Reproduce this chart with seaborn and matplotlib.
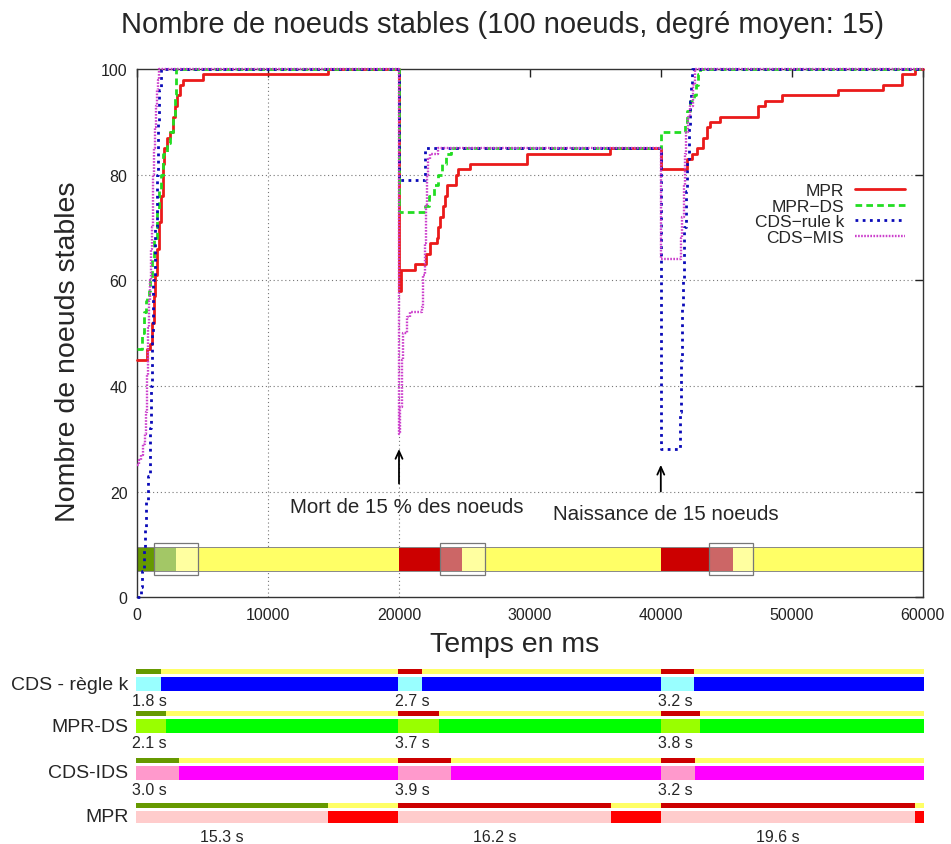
import matplotlib
matplotlib.use("Agg")
import matplotlib.pyplot as plt
from matplotlib.patches import Rectangle
from matplotlib.lines import Line2D
import pandas as pd
import seaborn as sns

# ---------------- data ----------------
MPR_t = [0, 720, 980, 1100, 1250, 1360, 1500, 1650, 1800, 1950, 2050, 2250, 2500, 2760, 2900,
         3020, 3270, 3520, 5050, 14600, 20000, 20150, 21220, 22060, 22370, 22880, 23000, 23130,
         23390, 23510, 23690, 24350, 24530, 25420, 29800, 36100, 40000, 41980, 42360, 42740,
         43200, 43500, 43760, 44530, 47450, 47980, 49240, 53560, 57000, 58400, 59420, 60000]
MPR_v = [45, 47, 48, 52, 57, 61, 66, 71, 76, 82, 85, 87, 88, 91, 93,
         95, 97, 98, 99, 100, 58, 62, 63, 65, 67, 68, 70, 72,
         74, 76, 78, 80, 81, 82, 84, 85, 81, 83, 84, 85,
         87, 89, 90, 91, 93, 94, 95, 96, 97, 99, 100, 100]

DS_t = [0, 350, 500, 650, 720, 900, 1000, 1150, 1300, 1490, 1650, 1800, 1995, 2250, 2500,
        2760, 2890, 2960, 20000, 22000, 22300, 22700, 23000, 23300, 23600, 24000,
        40000, 41850, 42000, 42200, 42550, 42700, 42850, 43000, 60000]
DS_v = [47, 50, 54, 56, 57, 58, 60, 64, 68, 73, 77, 80, 84, 86, 88,
        91, 95, 100, 73, 74, 76, 78, 80, 82, 84, 85,
        88, 90, 92, 94, 95, 97, 99, 100, 100]

K_t = [0, 200, 300, 400, 500, 600, 700, 850, 950, 1030, 1130, 1230, 1360, 1490, 1600, 1690,
       1790, 20000, 21950, 40000, 41470, 41550, 41650, 41720, 41800, 41900, 42030, 42130,
       42230, 42330, 42410, 60000]
K_v = [0, 0, 2, 5, 9, 13, 18, 23, 32, 40, 50, 60, 70, 80, 90, 96,
       100, 79, 85, 28, 35, 45, 55, 60, 70, 77, 83, 89,
       94, 97, 100, 100]

MIS_t = [0, 150, 300, 450, 600, 700, 780, 850, 920, 980, 1050, 1110, 1170, 1230, 1300, 1360,
         1430, 1490, 1600, 1700, 20000, 20080, 20200, 20330, 20590, 20840, 21730, 21860,
         21990, 22060, 22120, 22190, 22370, 23000, 40000, 41550, 41650, 41750, 41850, 41950,
         42100, 42250, 42450, 42600, 60000]
MIS_v = [25, 26, 27, 29, 31, 35, 42, 51, 56, 60, 66, 70, 75, 80, 85, 89,
         93, 96, 98, 100, 31, 36, 45, 50, 53, 54, 55, 61,
         67, 74, 80, 83, 84, 85, 64, 68, 72, 78, 84, 88,
         91, 93, 97, 100, 100]

series_names = ["MPR", "MPR\u2212DS", "CDS\u2212rule k", "CDS\u2212MIS"]

# events and overview band (ms)
events = [0, 20000, 40000]
band_dark_end = [2980, 24840, 45490]
box_start = [1280, 23150, 43720]
box_end = [4640, 26560, 47040]

# bottom timelines
row_names = ["CDS - règle k", "MPR-DS", "CDS-IDS", "MPR"]
recovery_end = [[1940, 21800, 42520],
                [2300, 23070, 42930],
                [3310, 24010, 42550],
                [14670, 36180, 59310]]
recovery_label = [["1.8 s", "2.7 s", "3.2 s"],
                  ["2.1 s", "3.7 s", "3.8 s"],
                  ["3.0 s", "3.9 s", "3.2 s"],
                  ["15.3 s", "16.2 s", "19.6 s"]]
x_ticks = [0, 10000, 20000, 30000, 40000, 50000, 60000]
y_ticks = [0, 20, 40, 60, 80, 100]

# ---------------- styling ----------------
sns.set_style("white")
plt.rcParams['font.family'] = ['Liberation Sans', 'DejaVu Sans']

W, H = 951, 845
fig = plt.figure(figsize=(W / 100, H / 100), dpi=100)

ax_l, ax_r, ax_t, ax_b = 137.2, 922.6, 70.0, 598.3
ax = fig.add_axes([ax_l / W, 1 - ax_b / H, (ax_r - ax_l) / W, (ax_b - ax_t) / H])

line_styles = [
    dict(color="#ea1a1a", lw=2.0, linestyle="-"),
    dict(color="#22dd22", lw=2.0, linestyle=(0, (2.4, 1.5))),
    dict(color="#0a0ab8", lw=2.0, linestyle=(0, (1.0, 1.6))),
    dict(color="#cc3fcc", lw=1.7, linestyle=(0, (0.7, 0.6))),
]
all_t = [MPR_t, DS_t, K_t, MIS_t]
all_v = [MPR_v, DS_v, K_v, MIS_v]

# overview band
band_lo, band_hi = 5.0, 9.5
box_lo, box_hi = 4.3, 10.3
dark_cols = ["#669900", "#cc0000", "#cc0000"]
light_cols = ["#a3c766", "#cc6666", "#cc6666"]
bounds = events + [60000]
for i, e in enumerate(events):
    ax.add_patch(Rectangle((e, band_lo), band_dark_end[i] - e, band_hi - band_lo,
                           facecolor=dark_cols[i], edgecolor="none", zorder=1))
    ax.add_patch(Rectangle((band_dark_end[i], band_lo), bounds[i + 1] - band_dark_end[i],
                           band_hi - band_lo, facecolor="#ffff66", edgecolor="none", zorder=1))
    ax.add_patch(Rectangle((box_start[i], band_lo), band_dark_end[i] - box_start[i],
                           band_hi - band_lo, facecolor=light_cols[i], edgecolor="none", zorder=1.1))
    ax.add_patch(Rectangle((band_dark_end[i], band_lo), box_end[i] - band_dark_end[i],
                           band_hi - band_lo, facecolor="#ffffa0", edgecolor="none", zorder=1.1))
    ax.add_patch(Rectangle((box_start[i], box_lo), box_end[i] - box_start[i], box_hi - box_lo,
                           facecolor="none", edgecolor="#777777", lw=0.9, zorder=1.2))
ax.add_patch(Rectangle((0, band_lo), 60000, band_hi - band_lo, facecolor="none",
                       edgecolor="#888888", lw=0.7, zorder=1.15))

# grid
for yv in [20, 40, 60, 80]:
    ax.axhline(yv, color="#777777", lw=0.8, linestyle=(0, (1, 2.5)), zorder=0.5)
for xv in [10000, 20000]:
    ax.axvline(xv, color="#777777", lw=0.8, linestyle=(0, (1, 2.5)), zorder=0.5)

# series
for name, t, v, st in zip(series_names, all_t, all_v, line_styles):
    df = pd.DataFrame({"t": t, "v": v})
    sns.lineplot(data=df, x="t", y="v", ax=ax, drawstyle="steps-post", clip_on=False,
                 color=st["color"], lw=st["lw"], linestyle=st["linestyle"], zorder=3)

ax.set_xlim(0, 60000)
ax.set_ylim(0, 100)
ax.set_xticks(x_ticks)
ax.set_yticks(y_ticks)
ax.ticklabel_format(style="plain", useOffset=False, axis="x")
ax.tick_params(direction="in", length=6, width=1, top=True, right=True,
               labelsize=11.5, pad=7, colors="#222222")
for s in ax.spines.values():
    s.set_color("#333333")
    s.set_linewidth(1.0)

ax.set_xlabel("Temps en ms", fontsize=20.5)
ax.xaxis.set_label_coords((515 - ax_l) / (ax_r - ax_l), (ax_b - 645) / (ax_b - ax_t))
ax.xaxis.label.set_va("center")
ax.set_ylabel("Nombre de noeuds stables", fontsize=20.5)
ax.yaxis.set_label_coords((68 - ax_l) / (ax_r - ax_l), (ax_b - 352) / (ax_b - ax_t))
ax.yaxis.label.set_va("center")
fig.suptitle("Nombre de noeuds stables (100 noeuds, degré moyen: 15)", x=502 / W,
             y=1 - 25 / H, va="center", fontsize=21)

# annotations
ax.annotate("", xy=(20000, 28.6), xytext=(20000, 21.0),
            arrowprops=dict(arrowstyle="->,head_length=0.55,head_width=0.25", color="black", lw=1.3))
ax.annotate("", xy=(40000, 25.6), xytext=(40000, 19.5),
            arrowprops=dict(arrowstyle="->,head_length=0.55,head_width=0.25", color="black", lw=1.3))
ax.text(20610, 17.1, "Mort de 15 % des noeuds", ha="center", va="center", fontsize=14.8)
ax.text(40400, 15.8, "Naissance de 15 noeuds", ha="center", va="center", fontsize=14.8)

# legend
handles = [Line2D([], [], **st) for st in line_styles]
ax.legend(handles, series_names, loc="upper right", bbox_to_anchor=(905 / W, 1 - 184 / H),
          bbox_transform=fig.transFigure, frameon=False, markerfirst=False, borderpad=0,
          handlelength=2.9, handletextpad=0.6, labelspacing=0.03, fontsize=12.5,
          borderaxespad=0)

# ---------------- bottom timelines ----------------
b_l, b_r, b_top = 135.5, 924.0, 660
ax2 = fig.add_axes([b_l / W, 0, (b_r - b_l) / W, (H - b_top) / H])
ax2.set_xlim(0, 60000)
ax2.set_ylim(H, b_top)
ax2.axis("off")

thin_top = [670, 712.3, 759, 804]
thin_h = [5, 5, 5, 4.8]
main_top = [678.3, 720.3, 766.7, 811.7]
main_h = [14, 13.7, 14, 12.3]
label_y = [701.7, 744, 790.7, 838]
light_row = ["#99ffff", "#99ff00", "#ff99cc", "#ffcccc"]
dark_row = ["#0000ff", "#00ff00", "#ff00ff", "#ff0000"]
phase_col = ["#669900", "#cc0000", "#cc0000"]

for r, name in enumerate(row_names):
    for i, e in enumerate(events):
        end = recovery_end[r][i]
        nxt = bounds[i + 1]
        ax2.barh(thin_top[r] + thin_h[r] / 2, end - e, left=e, height=thin_h[r],
                 color=phase_col[i], edgecolor="none")
        ax2.barh(thin_top[r] + thin_h[r] / 2, nxt - end, left=end, height=thin_h[r],
                 color="#ffff66", edgecolor="none")
        ax2.barh(main_top[r] + main_h[r] / 2, end - e, left=e, height=main_h[r],
                 color=light_row[r], edgecolor="none")
        ax2.barh(main_top[r] + main_h[r] / 2, nxt - end, left=end, height=main_h[r],
                 color=dark_row[r], edgecolor="none")
        if r < 3:
            ax2.annotate(recovery_label[r][i], xy=(e, label_y[r]), xytext=(-3, 0),
                         textcoords="offset pixels", ha="left", va="center", fontsize=11.5)
        else:
            ax2.annotate(recovery_label[r][i], xy=((e + end) / 2, label_y[r]), xytext=(-10, 0),
                         textcoords="offset pixels", ha="center", va="center", fontsize=11.5)
    ax2.annotate(name, xy=(0, main_top[r] + main_h[r] / 2), xytext=(-7, 0),
                 textcoords="offset pixels", ha="right", va="center", fontsize=14)

fig.savefig("out.png", dpi=100)
